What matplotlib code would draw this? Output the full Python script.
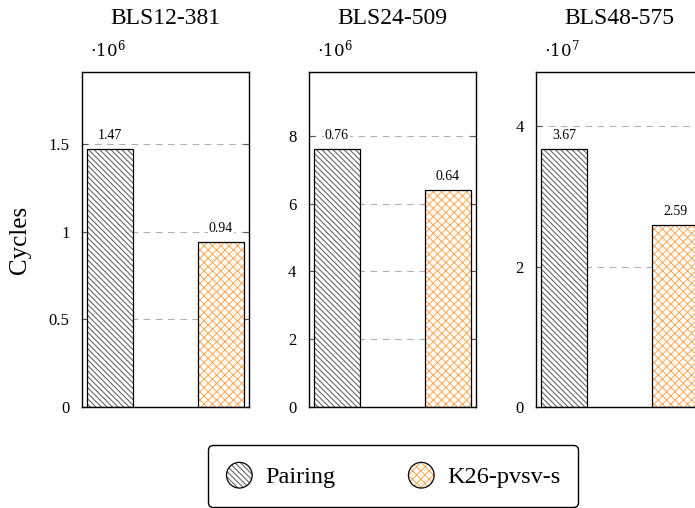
import matplotlib
matplotlib.use("Agg")
import matplotlib.pyplot as plt
from matplotlib.patches import Circle
from matplotlib.legend_handler import HandlerPatch
from matplotlib.patches import Patch

plt.rcParams['font.family'] = ['Liberation Serif', 'DejaVu Serif']
plt.rcParams['hatch.linewidth'] = 0.7

# Curves and measured cycle counts
curves = ["BLS12-381", "BLS24-509", "BLS48-575"]
methods = ["Pairing", "K26-pvsv-s"]
pairing_cycles = [1.47e6, 7.6e6, 3.67e7]
k26_cycles = [0.94e6, 6.4e6, 2.59e7]

# Axis scaling per panel (exponent of the axis multiplier) and label scaling
axis_exp = [6, 6, 7]
label_exp = [6, 7, 7]
yticks = [[0, 0.5, 1, 1.5], [0, 2, 4, 6, 8], [0, 2, 4]]
ytick_labels = [["0", "0.5", "1", "1.5"], ["0", "2", "4", "6", "8"], ["0", "2", "4"]]

ORANGE = "#ffa64d"
HATCH_GRAY = "#555555"
PAIR_HATCH = "\\\\\\\\\\\\"
K26_HATCH = "xxxx"

W, H = 695, 508
fig = plt.figure(figsize=(W / 100, H / 100), dpi=100)

ax_w = 167 / W
ax_h = 335 / H
ax_b = (H - 407) / H
lefts = [82 / W, 309 / W, 536 / W]
bar_w = 0.414

for i, curve in enumerate(curves):
    ax = fig.add_axes([lefts[i], ax_b, ax_w, ax_h])
    scale = 10.0 ** axis_exp[i]
    vals = [pairing_cycles[i] / scale, k26_cycles[i] / scale]
    ymax = max(vals) * 1.3

    ax.set_axisbelow(True)
    for t in yticks[i][1:]:
        ax.axhline(t, color="#b0b0b0", lw=0.8, ls=(0, (6, 5)), zorder=0)

    # Pairing bar
    ax.bar(0, vals[0], width=bar_w, facecolor="white", edgecolor=HATCH_GRAY,
           hatch=PAIR_HATCH, linewidth=0, zorder=2)
    ax.bar(0, vals[0], width=bar_w, facecolor="none", edgecolor="black",
           linewidth=0.9, zorder=3)
    # K26-pvsv-s bar
    ax.bar(1, vals[1], width=bar_w, facecolor="white", edgecolor=ORANGE,
           hatch=K26_HATCH, linewidth=0, zorder=2)
    ax.bar(1, vals[1], width=bar_w, facecolor="none", edgecolor="black",
           linewidth=0.9, zorder=3)

    lscale = 10.0 ** label_exp[i]
    for x, raw in zip([0, 1], [pairing_cycles[i], k26_cycles[i]]):
        ax.annotate(f"{raw / lscale:.2f}", xy=(x, raw / scale), xytext=(0, 5),
                    textcoords="offset points", ha="center", va="bottom",
                    fontsize=10, zorder=4,
                    bbox=dict(facecolor="white", edgecolor="none", pad=0.5))

    ax.set_xlim(-0.252, 1.252)
    ax.set_ylim(0, ymax)
    ax.set_xticks([])
    ax.set_yticks(yticks[i])
    ax.set_yticklabels(ytick_labels[i])
    ax.tick_params(axis="y", direction="in", length=4, width=0.8, color="#555555",
                   left=True, right=True, labelsize=12, pad=9)
    for s in ax.spines.values():
        s.set_linewidth(1.0)

    ax.text(0.05, 1.035, r"$\cdot 10^{%d}$" % axis_exp[i], transform=ax.transAxes,
            fontsize=12, ha="left", va="bottom", math_fontfamily="dejavuserif")
    fig.text(lefts[i] + ax_w / 2, 1 - 18 / H, curve, fontsize=17,
             ha="center", va="center")

fig.text(20 / W, 1 - 240 / H, "Cycles", rotation=90, fontsize=18,
         ha="center", va="center")


class HandlerCircle(HandlerPatch):
    def create_artists(self, legend, orig_handle, xdescent, ydescent,
                       width, height, fontsize, trans):
        r = min(width, height) * 0.55
        cx = 0.5 * width - xdescent
        cy = 0.5 * height - ydescent
        fill = Circle((cx, cy), r, facecolor="white",
                      edgecolor=orig_handle.get_edgecolor(),
                      hatch=orig_handle.get_hatch(), linewidth=0)
        edge = Circle((cx, cy), r, facecolor="none", edgecolor="black", linewidth=0.9)
        for a in (fill, edge):
            a.set_transform(trans)
        return [fill, edge]


handles = [Patch(facecolor="white", edgecolor=HATCH_GRAY, hatch=PAIR_HATCH),
           Patch(facecolor="white", edgecolor=ORANGE, hatch=K26_HATCH)]
leg = fig.legend(handles, methods, loc="center", bbox_to_anchor=(393 / W, 1 - 476 / H),
                 ncol=2, fontsize=17.5, frameon=True, fancybox=True,
                 handler_map={Patch: HandlerCircle()}, handlelength=1.1,
                 handleheight=1.1, columnspacing=3.0, handletextpad=0.5,
                 borderpad=0.75, borderaxespad=0, edgecolor="black", framealpha=1)
leg.get_frame().set_linewidth(1.0)

fig.savefig("out.png", dpi=100)
